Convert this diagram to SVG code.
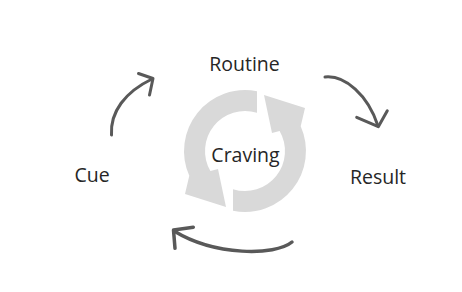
<svg xmlns="http://www.w3.org/2000/svg" width="462" height="292" viewBox="0 0 462 292">
<style>
.lbl{font-family:"Open Sans","Liberation Sans",sans-serif;font-size:19.5px;fill:#262626;text-anchor:middle}
.ring{fill:#d9d9d9}
.arr{fill:none;stroke:#595959;stroke-width:3;stroke-linecap:round;stroke-linejoin:round}
</style>
<defs>
<path id="half" d="M 233 210.8 A 61 61 0 0 0 300.7 126.2 L 305 108 L 264 95 L 272 133 L 279.6 131 A 40 40 0 0 1 233 189.2 Z"/>
</defs>
<rect width="462" height="292" fill="#ffffff"/>
<g id="craving">
<use href="#half" class="ring"/>
<use href="#half" class="ring" transform="rotate(180 245 151)"/>
<text class="lbl" x="245.5" y="161.5">Craving</text>
</g>
<g id="routine"><text class="lbl" x="244.5" y="70.7">Routine</text></g>
<g id="cue"><text class="lbl" x="92" y="182">Cue</text></g>
<g id="result"><text class="lbl" x="378" y="183.5">Result</text></g>
<g id="connectors">
<path class="arr" d="M 111.5 135 C 110 112, 125 92, 152 79"/>
<path class="arr" d="M 138.5 73.5 L 153 78.5 L 149.5 95"/>
<path class="arr" d="M 325 77 C 345 75, 368 95, 378 126"/>
<path class="arr" d="M 356.7 117.3 L 378.3 126.7 L 387.3 110.7"/>
<path class="arr" style="stroke-width:3.5" d="M 292 242 C 275 256, 215 256, 174 231"/>
<path class="arr" style="stroke-width:3.5" d="M 193.3 227.3 L 173.5 230 L 175 248.3"/>
</g>
</svg>
